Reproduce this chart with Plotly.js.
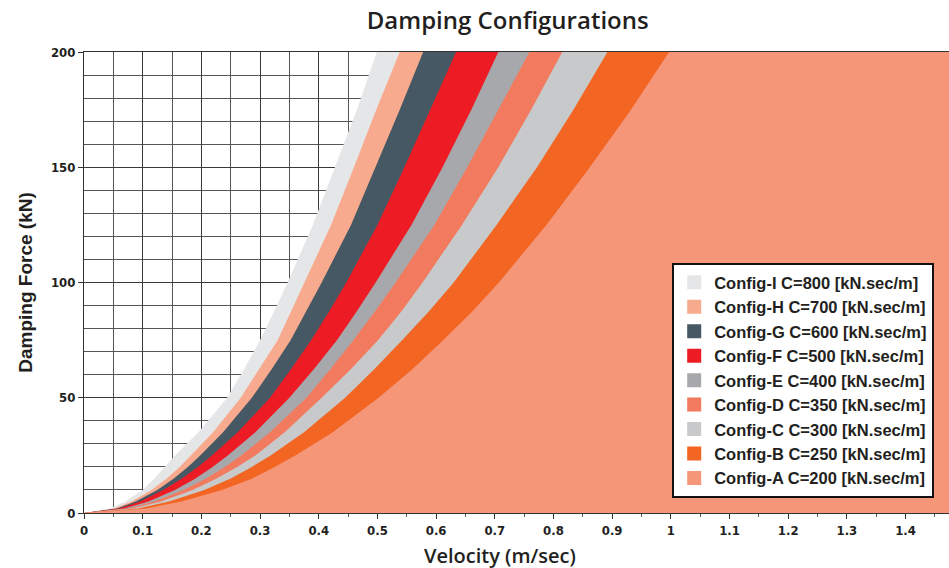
<!DOCTYPE html>
<html>
<head>
<meta charset="utf-8">
<script src="https://cdn.plot.ly/plotly-3.0.1.min.js"></script>
<style>
html,body{margin:0;padding:0;background:#fff;}
#chart{width:949px;height:568px;}
</style>
</head>
<body>
<div id="chart"></div>
<script>
// Force levels (kN) at which each curve's velocity was read
const forceLevels = [0, 2, 5, 10, 15, 20, 25, 35, 50, 62.5, 75, 87.5, 100, 125, 150, 175, 200];

// Velocity (m/sec) read for each configuration at those force levels
const velI = [0, 0.044, 0.070, 0.100, 0.120, 0.138, 0.155, 0.195, 0.244, 0.273, 0.300, 0.324, 0.347, 0.390, 0.428, 0.465, 0.499];
const velH = [0, 0.051, 0.081, 0.115, 0.141, 0.163, 0.182, 0.220, 0.267, 0.299, 0.330, 0.353, 0.376, 0.421, 0.460, 0.498, 0.538];
const velG = [0, 0.056, 0.088, 0.125, 0.153, 0.177, 0.198, 0.237, 0.286, 0.320, 0.352, 0.379, 0.405, 0.455, 0.497, 0.538, 0.578];
const velF = [0, 0.060, 0.096, 0.135, 0.167, 0.194, 0.218, 0.262, 0.317, 0.353, 0.387, 0.418, 0.447, 0.500, 0.546, 0.590, 0.634];
const velE = [0, 0.069, 0.110, 0.155, 0.190, 0.219, 0.245, 0.292, 0.350, 0.392, 0.431, 0.465, 0.497, 0.558, 0.611, 0.660, 0.706];
const velD = [0, 0.076, 0.120, 0.170, 0.208, 0.240, 0.268, 0.317, 0.379, 0.420, 0.459, 0.496, 0.531, 0.597, 0.653, 0.706, 0.759];
const velC = [0, 0.083, 0.131, 0.185, 0.226, 0.261, 0.292, 0.342, 0.405, 0.455, 0.501, 0.541, 0.577, 0.644, 0.706, 0.762, 0.815];
const velB = [0, 0.092, 0.145, 0.205, 0.250, 0.286, 0.318, 0.375, 0.445, 0.495, 0.542, 0.588, 0.630, 0.703, 0.772, 0.834, 0.892];
const velA = [0, 0.105, 0.166, 0.235, 0.287, 0.325, 0.360, 0.424, 0.502, 0.560, 0.612, 0.662, 0.707, 0.788, 0.862, 0.932, 0.997];

const configNames = [
  "Config-I C=800 [kN.sec/m]",
  "Config-H C=700 [kN.sec/m]",
  "Config-G C=600 [kN.sec/m]",
  "Config-F C=500 [kN.sec/m]",
  "Config-E C=400 [kN.sec/m]",
  "Config-D C=350 [kN.sec/m]",
  "Config-C C=300 [kN.sec/m]",
  "Config-B C=250 [kN.sec/m]",
  "Config-A C=200 [kN.sec/m]"
];
const configVels = [velI, velH, velG, velF, velE, velD, velC, velB, velA];
const configColors = ["#e5e6e8", "#f7aa8d", "#465864", "#ed1c24", "#a7a8ab",
                      "#f27b5f", "#c8c9cb", "#f26522", "#f69679"];

const X_MAX = 1.474;
const Y_MAX = 200;

// Filled regions: each curve closed against the right side of the plot
const fillTraces = configNames.map((name, i) => ({
  type: "scatter",
  mode: "lines",
  name: name,
  showlegend: false,
  x: configVels[i].concat([X_MAX, X_MAX]),
  y: forceLevels.concat([Y_MAX, 0]),
  fill: "toself",
  fillcolor: configColors[i],
  line: {width: 0, color: configColors[i], shape: "linear"},
  hoverinfo: "skip"
}));

// Legend entries with square swatches
const legendTraces = configNames.map((name, i) => ({
  type: "scatter",
  mode: "markers",
  name: name,
  x: [null],
  y: [null],
  marker: {symbol: "square", size: 14, color: configColors[i]},
  showlegend: true
}));

const tickFont = {family: "DejaVu Sans Condensed, DejaVu Sans", size: 13, color: "#231f20", weight: "bold"};

const layout = {
  width: 949,
  height: 568,
  margin: {l: 84, r: 0, t: 52, b: 55},
  paper_bgcolor: "#ffffff",
  plot_bgcolor: "#ffffff",
  title: {
    text: "Damping Configurations",
    x: 0.535, xanchor: "center",
    y: 0.963, yanchor: "middle",
    font: {family: "Open Sans", size: 24, color: "#231f20", weight: 600}
  },
  xaxis: {
    range: [0, X_MAX],
    tick0: 0, dtick: 0.1,
    ticks: "outside", ticklen: 5, tickcolor: "#333", tickwidth: 1,
    tickfont: tickFont,
    showgrid: true, gridcolor: "#3a3a3a", gridwidth: 1,
    minor: {dtick: 0.05, showgrid: true, gridcolor: "#555", gridwidth: 1, ticks: "outside", ticklen: 3, tickcolor: "#555"},
    showline: true, linecolor: "#333", linewidth: 1, mirror: true,
    zeroline: false
  },
  yaxis: {
    range: [0, Y_MAX],
    tick0: 0, dtick: 50,
    ticks: "outside", ticklen: 5, tickcolor: "#333",
    tickfont: tickFont,
    showgrid: true, gridcolor: "#3a3a3a", gridwidth: 1,
    minor: {dtick: 10, showgrid: true, gridcolor: "#555", gridwidth: 1},
    showline: true, linecolor: "#333", linewidth: 1,
    zeroline: false,
    title: {text: "Damping Force (kN)", standoff: 13,
            font: {family: "Liberation Sans", size: 19, color: "#231f20", weight: "bold"}}
  },
  annotations: [{
    text: "Velocity (m/sec)",
    xref: "paper", yref: "paper",
    x: 0.481, xanchor: "center",
    y: -0.092, yanchor: "middle",
    showarrow: false,
    font: {family: "Open Sans", size: 20, color: "#231f20", weight: 600}
  }],
  showlegend: true,
  legend: {
    x: 0.68, xanchor: "left",
    y: 0.542, yanchor: "top",
    bgcolor: "#ffffff",
    bordercolor: "#111",
    borderwidth: 2,
    font: {family: "Liberation Sans", size: 16.5, color: "#231f20", weight: "bold"},
    itemwidth: 30,
    tracegroupgap: 0
  }
};

Plotly.newPlot("chart", legendTraces.concat(fillTraces), layout, {staticPlot: true, displayModeBar: false});
</script>
</body>
</html>
